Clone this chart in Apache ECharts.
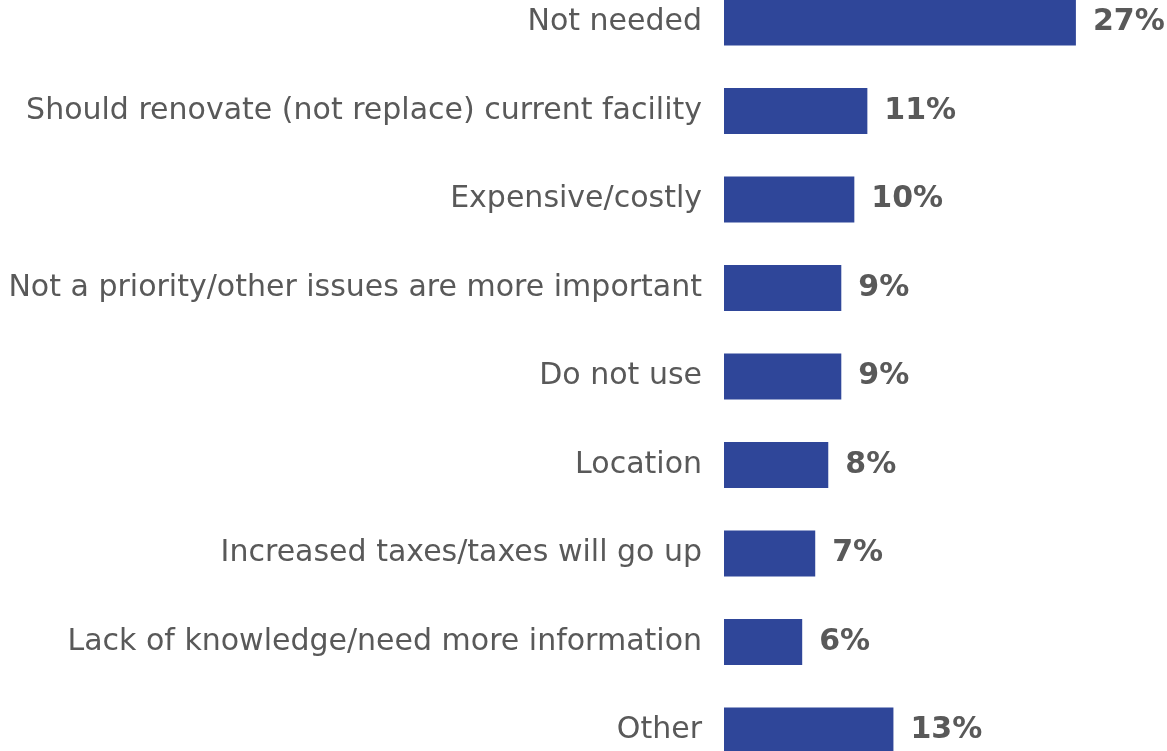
<!DOCTYPE html>
<html><head><meta charset="utf-8">
<script src="https://cdn.jsdelivr.net/npm/echarts@6/dist/echarts.min.js"></script>
<style>html,body{margin:0;padding:0;background:#fff}#c{width:1167px;height:751px}</style>
</head><body><div id="c"></div>
<script>
const categories = [
  "Not needed",
  "Should renovate (not replace) current facility",
  "Expensive/costly",
  "Not a priority/other issues are more important",
  "Do not use",
  "Location",
  "Increased taxes/taxes will go up",
  "Lack of knowledge/need more information",
  "Other"
];
const values = [27, 11, 10, 9, 9, 8, 7, 6, 13];

const chart = echarts.init(document.getElementById('c'));
chart.setOption({
  animation: false,
  grid: { left: 724, top: 22.5, width: 391, height: 708, containLabel: false },
  xAxis: { type: 'value', min: 0, max: 30, show: false },
  yAxis: {
    type: 'category', data: categories, inverse: true, boundaryGap: false,
    axisLine: { show: false }, axisTick: { show: false }, splitLine: { show: false },
    axisLabel: { margin: 22, color: '#595959', fontSize: 30, fontFamily: 'DejaVu Sans', fontWeight: 'normal' }
  },
  series: [{
    type: 'bar', data: values, barWidth: 46,
    itemStyle: { color: '#2F4699' },
    label: {
      show: true, position: 'right', distance: 17,
      formatter: p => p.value + '%',
      color: '#595959', fontSize: 30, fontWeight: 'bold', fontFamily: 'DejaVu Sans'
    }
  }]
});
</script></body></html>
